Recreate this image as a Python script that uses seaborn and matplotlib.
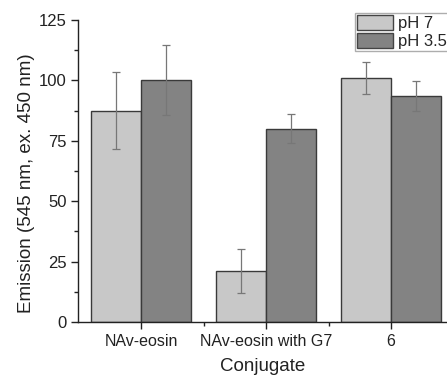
import matplotlib
matplotlib.use("Agg")
import matplotlib.pyplot as plt
import numpy as np
import pandas as pd
import seaborn as sns
from matplotlib.ticker import FixedLocator, MultipleLocator

# data
conjugates = ["NAv-eosin", "NAv-eosin with G7", "6"]
conditions = ["pH 7", "pH 3.5"]
ph7_mean = [87.5, 21.0, 101.0]
ph7_err = [16.0, 9.2, 6.5]
ph35_mean = [100.0, 80.0, 93.5]
ph35_err = [14.5, 6.0, 6.3]
colors = ["#c8c8c8", "#838383"]

df = pd.DataFrame({
    "Conjugate": conjugates * 2,
    "Condition": [conditions[0]] * 3 + [conditions[1]] * 3,
    "Emission": ph7_mean + ph35_mean,
    "err": ph7_err + ph35_err,
})

sns.set_theme(style="ticks")
plt.rcParams["font.family"] = ["Liberation Sans", "DejaVu Sans"]

fig = plt.figure(figsize=(4.47, 3.77), dpi=100)
ax = fig.add_axes([78 / 447, 1 - 322 / 377, 1 - 78 / 447, (322 - 20) / 377])

sns.barplot(data=df, x="Conjugate", y="Emission", hue="Condition", order=conjugates,
            hue_order=conditions, palette=colors, errorbar=None, width=0.8,
            edgecolor="#3a3a3a", linewidth=1.0, saturation=1, ax=ax)

# error bars at bar centres
bars = [p for p in ax.patches if p.get_width() > 0 and p.get_height() > 0]
bars = sorted(bars, key=lambda p: p.get_x())
xs = [p.get_x() + p.get_width() / 2 for p in bars]
hs = [p.get_height() for p in bars]
err_lookup = {}
for _, r in df.iterrows():
    err_lookup[round(r["Emission"], 3)] = r["err"]
errs = [err_lookup[round(h, 3)] for h in hs]
ax.errorbar(xs, hs, yerr=errs, fmt="none", ecolor="#777777", elinewidth=0.9,
            capsize=3, capthick=0.9)

ax.set_ylim(0, 125)
ax.set_xlim(-0.504, 2.448)
ax.yaxis.set_major_locator(MultipleLocator(25))
ax.yaxis.set_minor_locator(MultipleLocator(12.5))
ax.xaxis.set_minor_locator(FixedLocator([0.5, 1.5]))
ax.tick_params(axis="both", which="major", direction="out", length=5, width=1,
               color="#222222", labelsize=12, labelcolor="#222222", pad=3)
ax.tick_params(axis="x", which="major", labelsize=11.5, pad=4)
ax.tick_params(axis="both", which="minor", direction="out", length=3, width=1,
               color="#222222")
for s in ["left", "bottom"]:
    ax.spines[s].set_color("#222222")
    ax.spines[s].set_linewidth(1)
ax.spines["top"].set_visible(False)
ax.spines["right"].set_visible(False)

ax.set_xlabel("Conjugate", fontsize=13.5, color="#222222", labelpad=6)
ax.set_ylabel("Emission (545 nm, ex. 450 nm)", fontsize=13.5, color="#222222")
ax.yaxis.set_label_coords(-0.117, 0.46)

leg = ax.legend(loc="upper left", bbox_to_anchor=(355 / 447, 1 - 13 / 377),
                bbox_transform=fig.transFigure, frameon=True, fancybox=False,
                fontsize=12, handlelength=2.15, handleheight=1.0, handletextpad=0.3,
                borderpad=0.12, labelspacing=0.12, borderaxespad=0)
leg.get_frame().set_edgecolor("#999999")
leg.get_frame().set_linewidth(1)
for h in leg.legend_handles:
    h.set_edgecolor("#444444")

fig.savefig("out.png", dpi=100)
